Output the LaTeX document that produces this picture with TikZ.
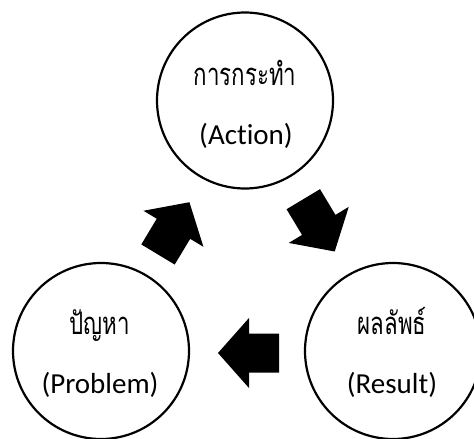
\documentclass[tikz,border=0pt]{standalone}
\usepackage{fontspec}
\setmainfont{Carlito}[Ligatures=NoCommon]
\newfontfamily\thaifont[Script=Thai]{Loma}
\tikzset{
  stage/.style={circle, draw=black, line width=2.2pt, minimum size=176pt, inner sep=0pt},
  thlabel/.style={font=\thaifont\fontsize{31}{36}\selectfont, anchor=base, inner sep=0pt, xscale=0.72},
  enlabel/.style={font=\fontsize{29}{34}\selectfont, anchor=base, inner sep=0pt},
  blockarrow/.pic={
    \fill[black] (0,-19.5) -- (30,-19.5) -- (30,-35) -- (61,0)
      -- (30,35) -- (30,19.5) -- (0,19.5) -- cycle;
  }
}
\begin{document}
\begin{tikzpicture}[x=1pt, y=-1pt]
  \clip (0,0) rectangle (474,439);
  \fill[white] (0,0) rectangle (474,439);

  % the three stages of the cycle
  \node[stage] (action)  at (245,100.5) {};
  \node[stage] (problem) at (101,351)   {};
  \node[stage] (result)  at (393,351)   {};

  \node[thlabel] (actionTh)  at (245,85)  {การกระทำ};
  \node[enlabel] (actionEn)  at (246,144) {(Action)};
  \node[thlabel] (problemTh) at (100,334) {ปัญหา};
  \node[enlabel] (problemEn) at (100,393.5) {(Problem)};
  \node[thlabel] (resultTh)  at (392,334) {ผลลัพธ์};
  \node[enlabel] (resultEn)  at (392,393.5) {(Result)};

  % block arrows running clockwise
  \pic[rotate=59]  at (158,254.5)   {blockarrow};
  \pic[rotate=-59] at (303.3,199.2) {blockarrow};
  \pic[rotate=180] at (279,353)     {blockarrow};
\end{tikzpicture}
\end{document}
